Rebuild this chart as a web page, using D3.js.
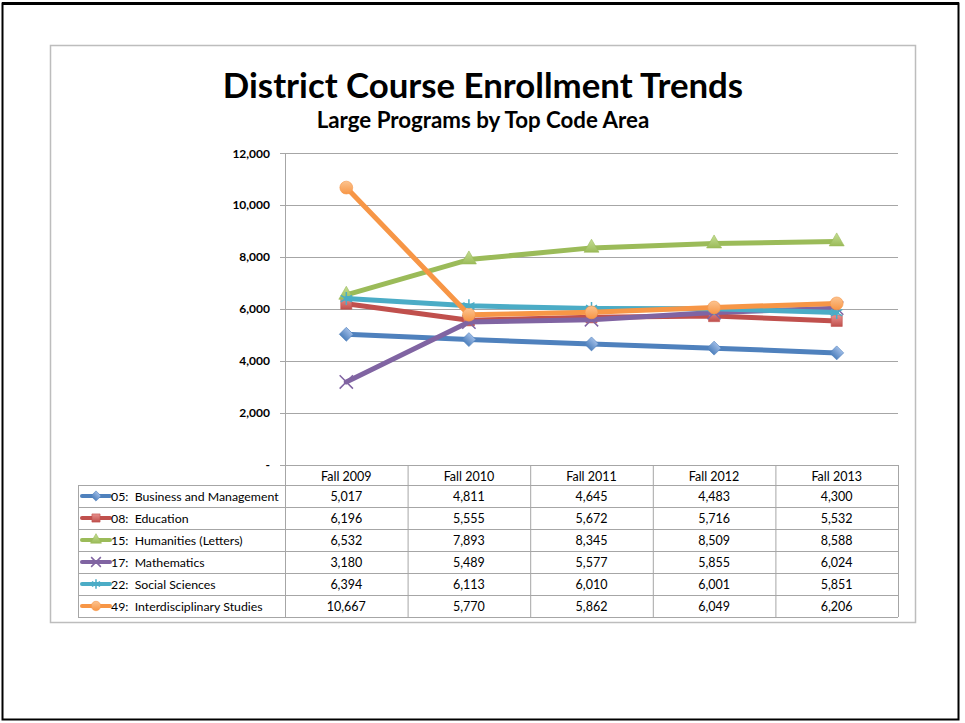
<!DOCTYPE html>
<html lang="en">
<head>
<meta charset="UTF-8">
<title>District Course Enrollment Trends</title>
<script src="https://cdn.jsdelivr.net/npm/d3@7"></script>
<style>
    body { margin: 0; background: #fff; }
    text { font-family: Lato, "Open Sans", sans-serif; fill: #000; }
    .title { font-size: 34.8px; font-weight: bold; text-anchor: middle; }
    .subtitle { font-size: 22.3px; font-weight: bold; text-anchor: middle; }
    .ytick { font-size: 12px; font-weight: bold; text-anchor: end; dominant-baseline: central; }
    .cell { font-size: 12.5px; text-anchor: middle; dominant-baseline: central; }
    .label { font-size: 12.3px; dominant-baseline: central; white-space: pre; }
    .grid { stroke: #a6a6a6; stroke-width: 1; }
    .tbl { stroke: #a6a6a6; stroke-width: 1; fill: none; }
    .series { fill: none; stroke-width: 5; stroke-linejoin: round; stroke-linecap: round; }
</style>
</head>
<body>
<svg id="chart" width="965" height="723"></svg>
<script>
    // data
    const terms = ["Fall 2009", "Fall 2010", "Fall 2011", "Fall 2012", "Fall 2013"];
    const names = ["05:  Business and Management", "08:  Education", "15:  Humanities (Letters)",
        "17:  Mathematics", "22:  Social Sciences", "49:  Interdisciplinary Studies"];
    const business = [5017, 4811, 4645, 4483, 4300];
    const education = [6196, 5555, 5672, 5716, 5532];
    const humanities = [6532, 7893, 8345, 8509, 8588];
    const mathematics = [3180, 5489, 5577, 5855, 6024];
    const social = [6394, 6113, 6010, 6001, 5851];
    const interdisc = [10667, 5770, 5862, 6049, 6206];
    const yTicks = [0, 2000, 4000, 6000, 8000, 10000, 12000];

    const colors = ["#4f81bd", "#c0504d", "#9bbb59", "#8064a2", "#4bacc6", "#f79646"];
    const lights = ["#9dbbe6", "#e8908d", "#c5de94", "#b29bcc", "#8fd4e6", "#fcc38f"];
    const symbols = ["diamond", "square", "triangle", "x", "star", "circle"];

    const series = names.map(function (n, i) {
        return {name: n, values: [business, education, humanities, mathematics, social, interdisc][i],
            color: colors[i], light: lights[i], symbol: symbols[i]};
    });

    const svg = d3.select("#chart");

    // slide frame + chart frame
    svg.append("rect").attr("x", 2.5).attr("y", 3.5).attr("width", 956).attr("height", 716)
        .attr("fill", "none").attr("stroke", "#000").attr("stroke-width", 2);
    svg.append("line").attr("x1", 2).attr("x2", 959).attr("y1", 3.5).attr("y2", 3.5)
        .attr("stroke", "#000").attr("stroke-width", 3);
    svg.append("rect").attr("x", 50.5).attr("y", 45.5).attr("width", 865).attr("height", 577)
        .attr("fill", "#fff").attr("stroke", "#bdbdbd").attr("stroke-width", 1.5);

    svg.append("text").attr("class", "title").attr("x", 483).attr("y", 98)
        .text("District Course Enrollment Trends");
    svg.append("text").attr("class", "subtitle").attr("x", 483).attr("y", 128)
        .text("Large Programs by Top Code Area");

    const x = d3.scaleBand().domain(terms).range([285, 898]);
    const y = d3.scaleLinear().domain([0, 12000]).range([464.5, 153]);
    const row = d3.scaleBand().domain(names).range([485, 617]);

    // gridlines + tick labels
    const fmt = d3.format(",");
    const g = svg.append("g");
    g.selectAll(".grid").data(yTicks).enter().append("line")
        .attr("class", "grid")
        .attr("x1", 280).attr("x2", 898)
        .attr("y1", function (d) { return Math.round(y(d)) + 0.5; })
        .attr("y2", function (d) { return Math.round(y(d)) + 0.5; });
    g.selectAll(".ytick").data(yTicks).enter().append("text")
        .attr("class", "ytick")
        .attr("x", 270)
        .attr("y", function (d) { return y(d); })
        .text(function (d) { return d === 0 ? "-" : fmt(d); });
    g.append("line").attr("class", "grid")
        .attr("x1", 285.5).attr("x2", 285.5).attr("y1", 153).attr("y2", 465);

    // data table
    const t = svg.append("g");
    x.domain().concat([null]).forEach(function (d) {
        const xx = (d === null ? 898 : x(d)) + 0.5;
        t.append("line").attr("class", "tbl")
            .attr("x1", xx).attr("x2", xx).attr("y1", 465).attr("y2", 617);
    });
    t.append("line").attr("class", "tbl").attr("x1", 78.5).attr("x2", 78.5).attr("y1", 485).attr("y2", 617);
    names.concat([null]).forEach(function (d) {
        const yy = Math.round(d === null ? 617 : row(d)) + 0.5;
        t.append("line").attr("class", "tbl").attr("x1", 78).attr("x2", 898).attr("y1", yy).attr("y2", yy);
    });
    t.selectAll(".head").data(terms).enter().append("text")
        .attr("class", "cell")
        .attr("x", function (d) { return x(d) + x.bandwidth() / 2; })
        .attr("y", 476)
        .text(function (d) { return d; });

    const defs = svg.append("defs");
    series.forEach(function (s, i) {
        const lg = defs.append("linearGradient").attr("id", "grad" + i)
            .attr("x1", 0).attr("y1", 0).attr("x2", 0).attr("y2", 1);
        lg.append("stop").attr("offset", "0%").attr("stop-color", s.light);
        lg.append("stop").attr("offset", "100%").attr("stop-color", s.color);
    });

    // markers
    function marker(sel, s, size) {
        if (s.symbol === "x" || s.symbol === "star") {
            const sym = s.symbol === "x" ? d3.symbolX : d3.symbolAsterisk;
            sel.append("path").attr("d", d3.symbol().type(sym).size(size * 0.9)())
                .attr("fill", "none").attr("stroke", s.color).attr("stroke-width", 1.5);
        } else {
            let type = d3.symbolCircle, rot = 0, k = 1;
            if (s.symbol === "diamond") { type = d3.symbolSquare; rot = 45; k = 0.75; }
            if (s.symbol === "square") { type = d3.symbolSquare; k = 0.95; }
            if (s.symbol === "triangle") { type = d3.symbolTriangle; k = 0.75; }
            sel.append("path").attr("d", d3.symbol().type(type).size(size * k)())
                .attr("transform", "rotate(" + rot + ")")
                .attr("fill", "url(#grad" + colors.indexOf(s.color) + ")")
                .attr("stroke", s.color).attr("stroke-width", 0.6);
        }
    }

    series.forEach(function (s) {
        const ry = row(s.name) + row.bandwidth() / 2;
        const key = t.append("g").attr("transform", "translate(96," + ry + ")");
        key.append("line").attr("x1", -14).attr("x2", 14).attr("y1", 0).attr("y2", 0)
            .attr("stroke", s.color).attr("stroke-width", 4).attr("stroke-linecap", "round");
        marker(key, s, 70);
        t.append("text").attr("class", "label").attr("x", 111).attr("y", ry).text(s.name);
        t.selectAll(null).data(s.values).enter().append("text")
            .attr("class", "cell")
            .attr("x", function (d, i) { return x(terms[i]) + x.bandwidth() / 2; })
            .attr("y", ry)
            .text(function (d) { return fmt(d); });
    });

    // lines
    const line = d3.line()
        .x(function (d, i) { return x(terms[i]) + x.bandwidth() / 2; })
        .y(function (d) { return y(d); });
    const plot = svg.append("g");
    series.forEach(function (s) {
        const sg = plot.append("g");
        sg.append("path").attr("class", "series").attr("stroke", s.color).attr("d", line(s.values));
        s.values.forEach(function (v, i) {
            const m = sg.append("g")
                .attr("transform", "translate(" + (x(terms[i]) + x.bandwidth() / 2) + "," + y(v) + ")");
            marker(m, s, 130);
        });
    });
</script>
</body>
</html>
